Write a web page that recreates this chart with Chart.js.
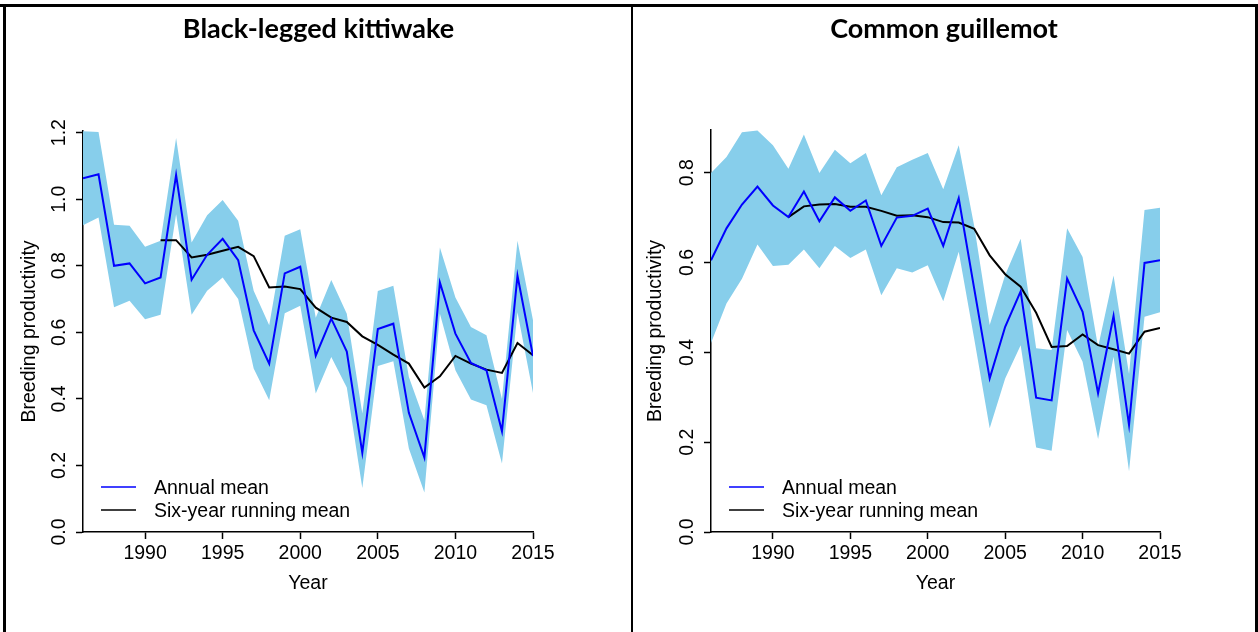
<!DOCTYPE html>
<html>
<head>
<meta charset="utf-8">
<script src="https://cdn.jsdelivr.net/npm/chart.js@4/dist/chart.umd.min.js"></script>
<style>
  body { margin: 0; background: #fff; }
  #wrap { position: relative; width: 1258px; height: 632px; overflow: hidden; }
  canvas { position: absolute; top: 0; }
  .rule { position: absolute; background: #000; }
  .title { position: absolute; top: 11px; font: bold 27px Lato, "Open Sans", sans-serif; color: #000; text-align: center; }
</style>
</head>
<body>
<div id="wrap">
  <canvas id="kittiwake" width="632" height="632" style="left:0"></canvas>
  <canvas id="guillemot" width="626" height="632" style="left:632px"></canvas>
  <div class="rule" style="left:0;top:4px;width:1258px;height:3px"></div>
  <div class="rule" style="left:3px;top:4px;width:3px;height:628px"></div>
  <div class="rule" style="left:631px;top:4px;width:2px;height:628px"></div>
  <div class="rule" style="left:1255px;top:4px;width:3px;height:628px"></div>
  <div class="title" style="left:6px;width:625px">Black-legged kittiwake</div>
  <div class="title" style="left:633px;width:622px">Common guillemot</div>
</div>
<script>
const years = [1986, 1987, 1988, 1989, 1990, 1991, 1992, 1993, 1994, 1995, 1996, 1997, 1998, 1999, 2000,
               2001, 2002, 2003, 2004, 2005, 2006, 2007, 2008, 2009, 2010, 2011, 2012, 2013, 2014, 2015];
const runYears = years.slice(5);
const yearTicks = [1990, 1995, 2000, 2005, 2010, 2015];

// Black-legged kittiwake
const kitMean = [1.063, 1.075, 0.800, 0.807, 0.747, 0.765, 1.073, 0.758, 0.833, 0.881, 0.817, 0.606, 0.506, 0.777, 0.797,
                 0.530, 0.641, 0.542, 0.238, 0.610, 0.626, 0.358, 0.224, 0.750, 0.596, 0.508, 0.486, 0.303, 0.770, 0.529];
const kitUpper = [1.204, 1.202, 0.923, 0.920, 0.857, 0.875, 1.184, 0.870, 0.952, 0.998, 0.935, 0.725, 0.621, 0.890, 0.910,
                  0.644, 0.757, 0.656, 0.356, 0.724, 0.740, 0.466, 0.336, 0.855, 0.705, 0.616, 0.591, 0.400, 0.875, 0.636];
const kitLower = [0.922, 0.945, 0.675, 0.695, 0.639, 0.653, 0.955, 0.653, 0.725, 0.765, 0.700, 0.491, 0.396, 0.657, 0.680,
                  0.416, 0.526, 0.434, 0.132, 0.499, 0.513, 0.251, 0.119, 0.656, 0.486, 0.398, 0.381, 0.206, 0.660, 0.418];
const kitRun = [0.877, 0.877, 0.825, 0.833, 0.845, 0.857, 0.829, 0.735, 0.738, 0.730, 0.674, 0.644, 0.631,
                0.588, 0.562, 0.533, 0.506, 0.434, 0.468, 0.529, 0.506, 0.488, 0.478, 0.568, 0.531];
const kitTicks = [0, 0.2, 0.4, 0.6, 0.8, 1.0, 1.2];

// Common guillemot
const gulMean = [0.605, 0.676, 0.729, 0.769, 0.727, 0.701, 0.758, 0.692, 0.745, 0.715, 0.738, 0.637, 0.700, 0.704, 0.720,
                 0.637, 0.743, 0.542, 0.342, 0.457, 0.536, 0.299, 0.293, 0.564, 0.490, 0.309, 0.481, 0.238, 0.599, 0.605];
const gulUpper = [0.799, 0.835, 0.890, 0.894, 0.861, 0.809, 0.885, 0.799, 0.851, 0.821, 0.844, 0.750, 0.812, 0.829, 0.844,
                  0.763, 0.861, 0.681, 0.461, 0.572, 0.653, 0.409, 0.405, 0.676, 0.612, 0.412, 0.571, 0.352, 0.717, 0.722];
const gulLower = [0.421, 0.509, 0.564, 0.640, 0.592, 0.595, 0.629, 0.587, 0.637, 0.610, 0.629, 0.527, 0.587, 0.578, 0.594,
                  0.514, 0.624, 0.430, 0.231, 0.342, 0.416, 0.188, 0.181, 0.450, 0.379, 0.207, 0.390, 0.135, 0.479, 0.489];
const gulRun = [0.701, 0.725, 0.729, 0.730, 0.724, 0.724, 0.715, 0.704, 0.705, 0.701, 0.690, 0.689, 0.675,
                0.616, 0.574, 0.546, 0.488, 0.412, 0.414, 0.440, 0.416, 0.407, 0.397, 0.446, 0.454];
const gulTicks = [0, 0.2, 0.4, 0.6, 0.8];

const bandColor = '#87ceeb';
const meanColor = '#0000ff';
const fontFamily = '"Liberation Sans", Arial, sans-serif';

Chart.defaults.font.family = fontFamily;
Chart.defaults.font.size = 19.5;
Chart.defaults.color = '#000';

const pts = (xs, ys) => xs.map((x, i) => ({x: x, y: ys[i]}));

// legend drawn inside the plot, bottom-left, like R's legend()
const legendLines = {
    id: 'legendLines',
    afterDraw(chart) {
        const ctx = chart.ctx;
        const area = chart.chartArea;
        const items = [['Annual mean', meanColor], ['Six-year running mean', '#000']];
        ctx.save();
        ctx.font = '19.5px ' + fontFamily;
        ctx.textBaseline = 'middle';
        ctx.fillStyle = '#000';
        items.forEach((it, i) => {
            const y = area.bottom - 45 + i * 23;
            ctx.strokeStyle = it[1];
            ctx.lineWidth = 1.5;
            ctx.beginPath();
            ctx.moveTo(area.left + 18, y);
            ctx.lineTo(area.left + 53, y);
            ctx.stroke();
            ctx.fillText(it[0], area.left + 71, y + 2);
        });
        ctx.restore();
    }
};

function makeChart(id, mean, upper, lower, run, yTicks, yMax, yWidth, padRight, padTop, yTitlePad) {
    return new Chart(document.getElementById(id), {
        type: 'line',
        data: {
            datasets: [
                {
                    data: pts(years, upper),
                    borderWidth: 0,
                    pointRadius: 0,
                    backgroundColor: bandColor,
                    fill: '+1'
                },
                {
                    data: pts(years, lower),
                    borderWidth: 0,
                    pointRadius: 0,
                    fill: false
                },
                {
                    label: 'Annual mean',
                    data: pts(years, mean),
                    borderColor: meanColor,
                    borderWidth: 2,
                    pointRadius: 0,
                    fill: false
                },
                {
                    label: 'Six-year running mean',
                    data: pts(runYears, run),
                    borderColor: '#000',
                    borderWidth: 2,
                    pointRadius: 0,
                    fill: false
                }
            ]
        },
        options: {
            responsive: false,
            animation: false,
            layout: {
                padding: {left: 0, right: padRight, top: padTop, bottom: 0}
            },
            elements: {
                line: {
                    tension: 0
                }
            },
            plugins: {
                legend: {display: false},
                tooltip: {enabled: false},
                filler: {drawTime: 'beforeDatasetsDraw'}
            },
            scales: {
                x: {
                    type: 'linear',
                    min: 1986,
                    max: 2015,
                    afterBuildTicks: s => { s.ticks = yearTicks.map(v => ({value: v})); },
                    afterFit: s => { s.height = 100; },
                    ticks: {
                        padding: 3,
                        maxRotation: 0,
                        callback: v => String(v)
                    },
                    grid: {
                        drawOnChartArea: false,
                        tickLength: 7,
                        tickColor: '#000',
                        tickWidth: 1.5
                    },
                    border: {color: '#000', width: 1.5},
                    title: {
                        display: true,
                        text: 'Year',
                        padding: {top: 0, bottom: 36.3}
                    }
                },
                y: {
                    min: 0,
                    max: yMax,
                    afterBuildTicks: s => { s.ticks = yTicks.map(v => ({value: v})); },
                    afterFit: s => { s.width = yWidth; },
                    ticks: {
                        padding: 3,
                        minRotation: 90,
                        maxRotation: 90,
                        crossAlign: 'center',
                        callback: v => v.toFixed(1)
                    },
                    grid: {
                        drawOnChartArea: false,
                        tickLength: 7,
                        tickColor: '#000',
                        tickWidth: 1.5
                    },
                    border: {color: '#000', width: 1.5},
                    title: {
                        display: true,
                        text: 'Breeding productivity',
                        padding: {top: yTitlePad, bottom: 0}
                    }
                }
            }
        },
        plugins: [legendLines]
    });
}

makeChart('kittiwake', kitMean, kitUpper, kitLower, kitRun, kitTicks, 1.205, 83, 99, 131, 18.3);
makeChart('guillemot', gulMean, gulUpper, gulLower, gulRun, gulTicks, 0.895, 79, 98, 130, 12.3);
</script>
</body>
</html>
